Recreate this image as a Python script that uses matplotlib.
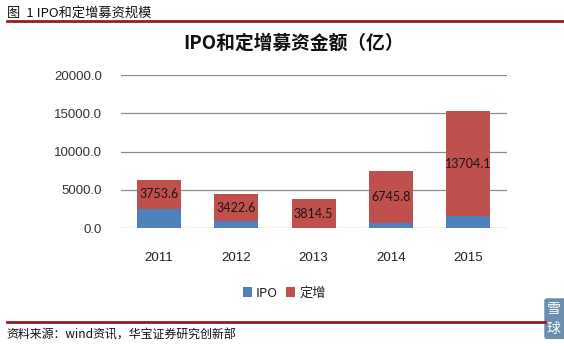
import matplotlib
matplotlib.use("Agg")
import matplotlib.pyplot as plt
from matplotlib.patches import FancyBboxPatch
import numpy as np

plt.rcParams['font.family'] = ['Noto Sans CJK SC', 'DejaVu Sans']

years = ['2011', '2012', '2013', '2014', '2015']
ipo = [2550, 1000, 0, 730, 1600]
placement = [3753.6, 3422.6, 3814.5, 6745.8, 13704.1]
yticks = [0, 5000, 10000, 15000, 20000]

BLUE = '#4F81BD'
RED = '#C0504D'
DARKRED = '#9a1b24'

fig = plt.figure(figsize=(5.64, 3.46), dpi=100)
ax = fig.add_axes([0.2137, 0.3402, 0.6844, 0.4430])

x = np.arange(len(years))
w = 0.57
ax.bar(x, ipo, w, color=BLUE, label='IPO', zorder=3)
ax.bar(x, placement, w, bottom=ipo, color=RED, label='定增', zorder=3)

for xi, b, v in zip(x, ipo, placement):
    ax.text(xi, b + v / 2, f'{v:.1f}', ha='center', va='center',
            fontsize=9, family='Lato', color='#1f1414', zorder=4)

ax.set_xlim(-0.5, len(years) - 0.5)
ax.set_ylim(0, 20000)
ax.set_yticks(yticks)
ax.set_yticklabels([f'{t:.1f}' for t in yticks], family='Liberation Sans',
                   fontsize=9.5, color='#333333')
ax.set_xticks(x)
ax.set_xticklabels(years, family='Liberation Sans', fontsize=9.5, color='#222222')
ax.tick_params(axis='y', length=0, pad=13.5)
ax.tick_params(axis='x', length=0, pad=17)
ax.yaxis.grid(True, color='#8c8c8c', linewidth=0.9, zorder=0)
for s in ax.spines.values():
    s.set_visible(False)

fig.text(0.521, 0.876, 'IPO和定增募资金额（亿）', ha='center', va='center',
         fontsize=13.5, fontweight='bold', color='#111111')

# legend
handles, labels = ax.get_legend_handles_labels()
leg = fig.legend(handles, labels, loc='center', bbox_to_anchor=(0.504, 0.153),
                 ncol=2, frameon=False, fontsize=9.5, handlelength=0.7,
                 handleheight=0.7, handletextpad=0.3, columnspacing=0.6)
for t in leg.get_texts():
    t.set_color('#222222')

# page header and footer
fig.text(0.012, 0.963, '图  1 IPO和定增募资规模', ha='left', va='center',
         fontsize=9.5, color='#111111')
fig.add_artist(plt.Line2D([0.012, 1.0], [0.938, 0.938], color=DARKRED,
                          linewidth=2.0, transform=fig.transFigure))
fig.add_artist(plt.Line2D([0.012, 0.967], [0.068, 0.068], color=DARKRED,
                          linewidth=2.0, transform=fig.transFigure))
fig.text(0.012, 0.032, '资料来源：wind资讯，华宝证券研究创新部', ha='left',
         va='center', fontsize=8.6, color='#111111')

# corner badge
badge = FancyBboxPatch((0.965, 0.02), 0.04, 0.118,
                       boxstyle='round,pad=0,rounding_size=0.006',
                       transform=fig.transFigure, facecolor='#5b82a6',
                       edgecolor='none', alpha=0.9)
fig.add_artist(badge)
fig.text(0.982, 0.107, '雪', ha='center', va='center', fontsize=10,
         color='white')
fig.text(0.982, 0.05, '球', ha='center', va='center', fontsize=10,
         color='white')

fig.savefig('out.png', dpi=100)
